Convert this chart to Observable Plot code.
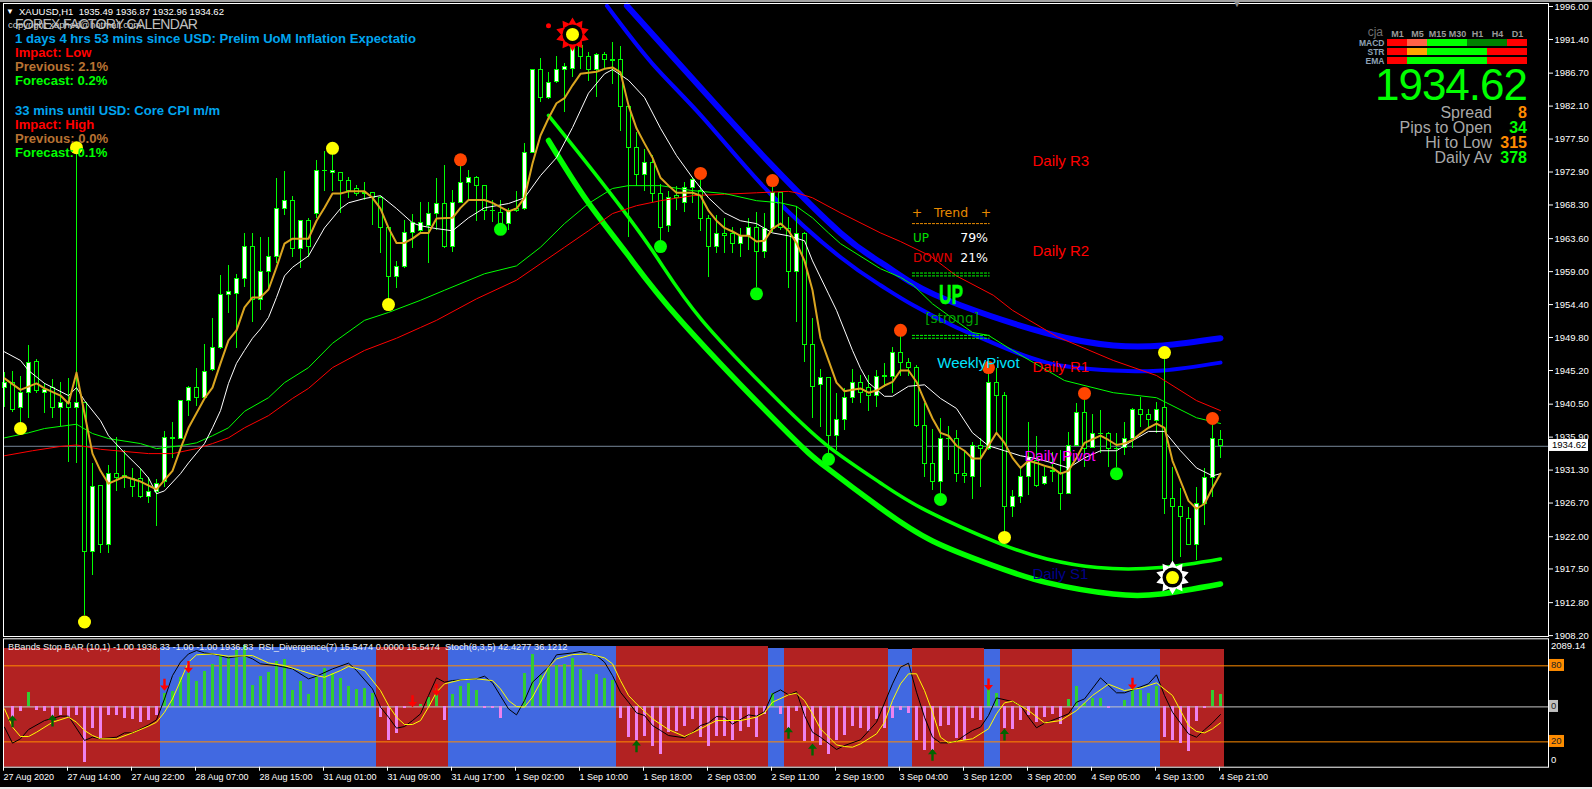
<!DOCTYPE html>
<html><head><meta charset="utf-8">
<script src="https://cdn.jsdelivr.net/npm/d3@7"></script>
<script src="https://cdn.jsdelivr.net/npm/@observablehq/plot@0.6"></script>
<style>
html,body{margin:0;padding:0;background:#000;overflow:hidden}
#stage{position:relative;width:1592px;height:789px;background:#000;overflow:hidden;font-family:"Liberation Sans",Arial,sans-serif}
#stage svg{position:absolute;overflow:visible;background:transparent}
.lb{position:absolute;white-space:pre;line-height:.85}
</style></head><body><div id="stage"></div>
<script>
// ---- price axis & time axis
const priceTicks=[1996.0,1991.4,1986.7,1982.1,1977.5,1972.9,1968.3,1963.6,1959.0,1954.4,1949.8,1945.2,1940.5,1935.9,1931.3,1926.7,1922.0,1917.5,1912.8,1908.2];
const timeLabels=["27 Aug 2020","27 Aug 14:00","27 Aug 22:00","28 Aug 07:00","28 Aug 15:00","31 Aug 01:00","31 Aug 09:00","31 Aug 17:00","1 Sep 02:00","1 Sep 10:00","1 Sep 18:00","2 Sep 03:00","2 Sep 11:00","2 Sep 19:00","3 Sep 04:00","3 Sep 12:00","3 Sep 20:00","4 Sep 05:00","4 Sep 13:00","4 Sep 21:00"];
// ---- H1 candles
const opens=[1942.7,1943.4,1939.9,1942.0,1946.4,1942.1,1942.7,1940.0,1940.7,1940.0,
1940.6,1919.8,1929.1,1920.9,1930.8,1930.5,1930.0,1930.1,1927.5,1928.2,
1929.6,1935.8,1935.7,1940.9,1942.7,1941.3,1945.2,1948.3,1955.8,1955.9,
1957.9,1962.4,1955.0,1958.9,1961.0,1967.8,1968.8,1962.1,1966.1,1967.0,
1973.1,1972.8,1972.8,1971.7,1970.5,1970.0,1970.0,1969.3,1965.1,1958.3,
1959.6,1964.4,1964.6,1965.4,1967.1,1968.5,1962.5,1968.6,1971.4,1972.1,
1970.9,1967.5,1967.2,1965.7,1967.7,1967.8,1975.6,1987.1,1983.2,1985.4,
1987.2,1987.3,1990.5,1989.0,1987.2,1989.3,1988.5,1988.5,1982.0,1976.3,
1972.5,1974.2,1969.9,1965.4,1969.5,1968.6,1970.6,1970.3,1966.3,1962.4,
1964.2,1964.2,1962.8,1964.0,1965.1,1961.7,1965.0,1970.0,1965.0,1958.9,
1964.2,1948.8,1943.2,1944.1,1936.0,1938.3,1941.3,1943.5,1942.7,1941.7,
1944.5,1944.3,1947.7,1946.3,1945.6,1937.4,1932.2,1929.7,1935.7,1935.7,
1930.7,1930.4,1934.6,1934.2,1943.5,1941.6,1926.1,1927.5,1930.4,1932.6,
1929.3,1931.2,1930.9,1928.0,1934.6,1939.3,1934.4,1936.4,1936.4,1934.3,
1934.4,1935.7,1939.7,1939.0,1938.2,1939.9,1927.3,1926.1,1924.5,1920.8,
1926.6,1930.2,1935.49];
const closes=[1943.4,1939.7,1942.0,1946.3,1942.3,1942.5,1940.0,1940.7,1940.0,1940.7,
1919.8,1929.0,1920.9,1930.8,1930.2,1930.2,1928.9,1927.5,1928.2,1929.4,
1935.8,1935.7,1940.9,1942.7,1941.3,1945.0,1948.3,1955.8,1956.1,1957.9,
1962.4,1955.0,1958.9,1961.0,1967.8,1968.8,1962.1,1966.0,1962.4,1973.1,
1973.0,1973.1,1971.7,1970.3,1969.9,1969.9,1969.3,1965.1,1958.3,1959.6,
1964.4,1965.8,1965.8,1967.0,1968.5,1962.5,1968.6,1971.4,1972.1,1970.9,
1967.4,1967.4,1965.7,1967.5,1967.5,1975.6,1987.1,1983.2,1985.3,1987.2,
1987.5,1990.3,1988.9,1987.1,1989.3,1988.6,1988.4,1982.0,1976.3,1972.5,
1974.2,1969.9,1965.1,1969.3,1969.3,1970.6,1971.8,1966.3,1962.4,1964.2,
1964.0,1962.9,1964.0,1965.1,1961.7,1965.0,1970.0,1965.1,1959.0,1964.2,
1948.8,1942.9,1944.1,1936.0,1938.3,1941.3,1943.5,1942.0,1941.7,1944.3,
1944.3,1947.7,1946.3,1945.6,1937.4,1932.2,1929.7,1935.6,1935.6,1930.7,
1930.5,1934.6,1934.2,1943.5,1941.6,1926.1,1927.5,1930.4,1933.0,1929.1,
1930.4,1931.1,1928.0,1934.6,1939.3,1934.3,1936.3,1936.3,1934.2,1934.2,
1935.7,1939.7,1939.0,1938.3,1939.7,1927.3,1926.1,1924.7,1920.8,1926.6,
1930.2,1935.6,1934.62];
const highs=[1944.9,1945.0,1944.3,1948.7,1946.7,1943.4,1943.9,1943.5,1944.1,1975.9,
1940.7,1932.2,1929.1,1931.9,1935.8,1934.0,1931.5,1931.5,1930.2,1930.0,
1936.7,1937.9,1941.0,1942.9,1945.5,1948.8,1952.4,1958.4,1959.8,1958.6,
1964.3,1964.3,1963.8,1963.8,1972.0,1973.0,1969.5,1966.1,1966.4,1974.5,
1975.8,1975.9,1972.8,1972.1,1971.0,1971.4,1970.0,1969.5,1965.1,1960.4,
1966.1,1967.0,1968.6,1968.6,1972.0,1973.8,1970.3,1973.8,1973.1,1972.3,
1970.9,1968.9,1968.9,1967.8,1970.2,1976.9,1987.1,1988.7,1986.8,1989.0,
1988.0,1991.3,1990.8,1989.6,1989.4,1989.6,1991.0,1990.4,1982.2,1978.4,
1976.0,1975.2,1971.2,1970.2,1970.9,1971.4,1972.1,1971.7,1966.8,1966.8,
1966.4,1965.1,1965.0,1966.4,1967.2,1967.1,1970.7,1970.0,1966.5,1968.1,
1964.4,1952.4,1945.3,1944.1,1942.0,1942.7,1945.3,1944.5,1944.5,1945.2,
1946.2,1948.4,1950.5,1946.9,1945.9,1940.6,1936.9,1938.5,1937.4,1936.8,
1934.0,1935.1,1935.7,1944.8,1945.5,1942.1,1928.4,1931.6,1937.9,1936.0,
1931.6,1933.7,1934.0,1936.5,1940.6,1941.0,1939.0,1939.6,1936.5,1936.4,
1937.9,1939.9,1941.4,1939.7,1940.7,1947.7,1931.6,1928.7,1926.1,1928.8,
1931.5,1937.5,1936.87];
const lows=[1940.0,1939.3,1937.1,1938.5,1942.0,1939.2,1938.5,1937.4,1932.3,1932.2,
1911.0,1916.6,1919.6,1919.6,1928.3,1928.7,1927.5,1927.3,1926.6,1923.4,
1928.9,1932.9,1935.6,1938.8,1940.2,1941.0,1945.0,1948.1,1953.1,1948.3,
1956.8,1951.9,1953.6,1956.5,1960.1,1966.8,1961.0,1959.4,1961.0,1966.4,
1970.2,1970.2,1967.1,1969.2,1969.5,1968.9,1965.4,1961.5,1954.4,1956.6,
1959.4,1962.2,1964.4,1960.1,1964.7,1962.2,1961.7,1968.5,1968.9,1966.0,
1966.1,1965.8,1964.9,1964.7,1967.2,1967.5,1975.5,1982.6,1983.0,1985.3,
1981.2,1986.1,1987.2,1985.5,1983.3,1987.3,1985.1,1978.5,1963.8,1970.9,
1970.2,1968.6,1962.5,1964.4,1967.5,1967.2,1968.5,1964.6,1958.2,1961.5,
1961.5,1961.5,1961.0,1961.9,1956.8,1960.8,1964.4,1964.7,1956.6,1951.9,
1946.3,1938.5,1937.2,1933.3,1934.0,1936.8,1940.6,1940.6,1939.5,1940.0,
1942.8,1942.0,1944.3,1944.3,1937.2,1930.2,1928.4,1928.0,1932.6,1929.6,
1929.4,1927.2,1928.9,1934.0,1936.4,1922.6,1924.7,1926.6,1927.7,1928.9,
1929.1,1929.6,1925.6,1927.9,1934.6,1931.6,1934.3,1933.6,1931.6,1931.6,
1933.3,1934.3,1937.2,1937.1,1936.4,1925.1,1918.0,1919.1,1920.8,1918.7,
1923.6,1927.5,1932.96];
const orangeBars=[0,2,4,5,7,8,9,10,11,12,13,15,17,19,21,22,23,25,26,27,28,29,30,31,32,33,34,35,36,38,39,40,41,42,43,45,46,47,48,49,50,51,52,53,54,56,57,58,60,61,63,64,65,66,67,68,69,70,71,72,74,75,76,77,78,79,80,81,82,83,84,86,87,88,89,90,91,92,93,94,95,96,97,98,99,100,101,102,103,104,105,106,107,108,109,110,111,112,113,114,115,116,117,118,119,120,121,122,123,124,125,126,127,128,129,130,131,132,133,134,135,137,138,139,140,141,142,143,144,145,146,147,148,149,150,151,152];
const orangeVals=[1944.1,1942.5,1943.4,1942.7,1941.7,1940.6,1944.9,1939.2,1933.6,1931.2,1929.4,1930.4,1929.7,1928.6,1931.2,1934.3,1937.2,1941.3,1942.8,1946.2,1949.4,1950.8,1954.0,1955.4,1955.4,1956.5,1959.6,1962.9,1963.6,1963.6,1966.1,1967.9,1969.9,1969.9,1970.2,1970.2,1969.3,1967.8,1965.1,1963.0,1963.0,1963.6,1964.4,1964.4,1966.4,1966.5,1967.9,1969.0,1969.0,1968.6,1967.4,1967.8,1969.3,1974.1,1978.0,1980.4,1982.5,1983.2,1985.0,1986.6,1986.9,1987.3,1987.5,1986.8,1982.2,1979.0,1976.9,1974.9,1972.1,1971.0,1970.0,1970.0,1969.6,1967.5,1966.1,1965.1,1964.6,1964.0,1964.0,1963.2,1963.3,1965.0,1965.7,1964.7,1963.0,1960.5,1956.4,1949.7,1946.6,1943.5,1942.3,1942.5,1942.7,1942.1,1942.4,1943.1,1943.6,1945.2,1945.2,1943.6,1941.0,1938.5,1936.5,1936.1,1934.7,1934.0,1932.9,1932.9,1934.7,1936.5,1935.1,1933.0,1931.6,1932.6,1932.3,1931.9,1931.6,1930.8,1931.2,1933.0,1935.1,1936.1,1935.5,1934.8,1935.0,1935.5,1936.4,1937.2,1937.8,1937.2,1932.6,1929.8,1927.0,1925.9,1926.6,1928.8,1930.8];
const whiteBars=[0,2,3,5,8,9,10,12,13,15,17,18,19,20,22,23,25,26,27,28,29,30,31,32,33,34,35,36,38,40,42,43,45,47,49,51,52,54,56,58,60,63,65,67,69,71,73,75,76,78,80,82,84,86,88,90,92,94,96,98,100,101,103,104,106,107,108,110,111,113,115,117,119,121,123,125,127,129,131,133,135,137,139,141,143,145,147,149,151,152];
const whiteVals=[1947.8,1946.6,1945.2,1943.4,1941.7,1942.8,1941.0,1938.2,1936.1,1933.7,1931.5,1930.2,1928.0,1928.4,1930.8,1932.3,1935.0,1937.2,1939.6,1943.4,1946.2,1948.0,1949.7,1951.0,1952.6,1955.4,1958.4,1959.6,1961.2,1965.1,1967.8,1968.6,1969.2,1969.6,1967.8,1965.8,1965.4,1965.0,1964.7,1966.5,1967.9,1968.5,1969.3,1972.4,1974.9,1979.1,1983.9,1986.6,1987.2,1985.7,1983.3,1979.0,1975.2,1972.1,1969.3,1967.2,1966.1,1965.7,1964.4,1964.0,1963.3,1960.5,1955.9,1953.6,1948.0,1945.5,1943.5,1941.6,1941.6,1943.0,1943.2,1941.3,1939.9,1936.5,1934.7,1934.0,1933.3,1932.9,1932.3,1931.6,1933.0,1934.0,1934.0,1935.4,1936.7,1936.7,1934.0,1931.6,1930.5,1930.8];
const greenBars=[0,3,5,9,11,13,17,19,22,24,26,28,30,33,35,38,41,45,48,52,55,60,64,67,70,73,76,78,82,86,90,94,97,99,101,103,104.5,109.5,112,113.6,116,118.6,121,123,126,132.5,138.6,144,149,152];
const greenVals=[1935.8,1936.5,1937.1,1937.7,1936.4,1935.7,1935.0,1934.3,1934.7,1935.1,1936.1,1937.2,1939.5,1941.4,1943.5,1945.6,1949.0,1952.2,1953.3,1955.0,1956.4,1958.7,1959.8,1962.4,1965.7,1968.5,1970.6,1971.0,1971.0,1970.3,1969.9,1968.9,1968.6,1968.1,1966.5,1964.4,1962.9,1959.4,1958.2,1957.1,1954.5,1952.4,1950.5,1950.1,1948.0,1943.8,1942.1,1941.4,1938.6,1937.8];
const redBars=[0,3.5,7,9,12,15,18,21,24,26,28,30,33,36,38,41,45,49,52,54,59,64,67,70,73,76,79,82,86,90,94,98,99,101,104.5,109.5,112,115.7,119,123.6,126,131.6,138.6,144,149,152];
const redVals=[1933.3,1934.0,1934.6,1934.8,1934.2,1933.9,1933.6,1933.6,1934.3,1935.0,1935.8,1937.2,1938.9,1941.3,1942.7,1945.6,1948.0,1949.7,1951.2,1952.2,1955.2,1957.8,1960.1,1962.4,1964.7,1967.1,1968.2,1968.9,1969.6,1969.8,1970.0,1970.2,1970.0,1969.3,1967.2,1964.4,1963.2,1961.2,1958.4,1955.7,1953.6,1949.9,1946.6,1944.5,1941.0,1939.6];
// ---- regression channels
const blueOuterBars=[77.8,87.3,95.7,104.5,109.5,113.6,119.5,130.3,138.6,144.8,152];
const blueOuterVals=[1996.1,1984.3,1974.1,1964.4,1960.3,1957.3,1954.3,1950.4,1948.7,1948.7,1949.7];
const blueInnerBars=[75.3,81,87.3,95.7,104.5,109.5,113.6,119,122.8,130.3,138.6,144.8,152];
const blueInnerVals=[1996.1,1988.0,1980.5,1969.9,1961.0,1957.1,1954.3,1951.2,1949.4,1946.3,1945.2,1945.2,1946.3];
const limeOuterBars=[68,72.8,77.8,84.5,97,102.8,109.5,116,123.5,130.3,138.6,144.5,152];
const limeOuterVals=[1977.3,1968.9,1961.5,1952.2,1937.5,1931.6,1926.0,1921.4,1918.0,1915.6,1914.0,1914.0,1915.4];
const limeInnerBars=[68,74.5,81,87.2,97,103.2,109.5,115.3,124.5,130.3,136.6,144.5,152];
const limeInnerVals=[1980.8,1971.7,1961.9,1952.2,1940.7,1934.4,1929.5,1925.6,1921.0,1918.9,1917.7,1917.7,1918.9];
// ---- signal dots
const yellowBars=[9,41,48,2,10,71,125,145,146];
const yellowVals=[1976.3,1976.2,1954.4,1937.1,1910.1,1992.1,1921.9,1947.7,1916.3];
const orangeDotBars=[57,87,96,112,123,135,151];
const orangeDotVals=[1974.6,1972.7,1971.7,1950.8,1945.6,1942.0,1938.5];
const greenDotBars=[62,82,94,103,117,139];
const greenDotVals=[1964.9,1962.5,1955.9,1932.8,1927.2,1930.8];
// ---- price labels on chart
const levelNames=["Daily R3","Daily R2","Daily R1","Daily Pivot","Daily S1","WeeklyPivot"];
const levelBars=[128.5,128.5,128.5,127.5,128.5,116.6];
const levelVals=[1974.4,1961.9,1945.6,1933.2,1916.8,1946.2];
const levelColors=["#ff0000","#ff0000","#ff0000","#ff00ff","#00008b","#00e5ff"];
// ---- lower panel: BBands Stop regions
const regionFirst=[0,20,47,56,77,96,98,111,114,123,125,134,145];
const regionLast=[19,46,55,76,95,97,110,113,122,124,133,144,152];
const regionTops=[93.7,94.5,94.5,95.5,95,94,94,92.9,93.5,92.9,92.9,92.9,92.9];
const regionColors=["#b22222","#4169e1","#b22222","#4169e1","#b22222","#4169e1","#b22222","#4169e1","#b22222","#4169e1","#b22222","#4169e1","#b22222"];
// ---- lower panel: histogram, relative to its zero line
const histValues=[0.5,-8.2,-3.7,11.3,-2.9,-3.7,-9.5,-6.8,-8.2,-6.8,-43.7,-16.8,-25.3,-6.8,-6.8,-9.5,-10.3,-12.1,-10.8,-6.8,
10.3,12.1,23.4,26.1,20,27.9,33.2,40.5,39.2,44.5,48.4,16.8,23.9,27.1,35.8,37.4,12.9,20,9.7,23.4,30,26.1,22.1,16.1,13.7,14.7,10.3,
-8.2,-26.6,-20.8,-1.6,1.6,1.6,7.4,14.2,-10.8,
9.7,16.1,18.4,12.9,-1.6,-1.6,-8.9,0,0,
26.6,41.3,24.7,30,32.6,33.2,37.9,29.5,20.8,25.3,22.1,20.8,
-8.9,-23.9,-26.6,-23.4,-31.1,-37.6,-20,-19.2,-15.5,-10.3,-23.9,-31.1,-23.2,-23.2,-26.6,-19.5,-16.1,-23.9,-6.3,
10.8,-6.3,-17.4,-3.7,-27.4,-27.4,-30.5,-37.6,-26.6,-22.6,-15.5,-17.4,-19.5,-10.3,-17.4,-9.5,-2.9,-5,-26.6,-34.5,-34.5,-15.5,-14.7,-24.7,-26.6,-8.9,-10.8,
14.2,10.3,-17.4,-17.9,-10.8,-6.8,-12.1,-8.2,-6.3,-14.2,5.8,16.1,2.4,6.8,6.3,-1.1,0,5,14.2,12.9,10.8,16.1,
-23.9,-26.6,-28.7,-35.3,-11.6,-1.1,12.9,9.7];
const histZero=47.6;
// ---- lower panel: stochastic
const stochBars=[0,1,2,3,5,7,8,10,11,12,14,15,16,18,19,20,21,22,23,24,25,26,28,30,31,32,34,36,38,39,41,43,44,46,47,48,49,50,51,52,53,54,55,56,57,59,60,61,63,64,65,66,68,69,71,72,74,75,76,77,78,79,80,81,82,83,85,86,87,88,89,90,91,93,94,95,96,97,98,99,100,101,102,104,105,107,109,111,112,113,114,115,116,117,118,119,120,121,122,123,124,126,127,128,129,130,132,133,134,135,137,139,140,141,143,144,145,146,148,149,150,151,152];
const stochVals=[31.6,19.0,22.4,29.7,36.8,40.3,40.3,21.1,23.7,22.4,23.7,27.1,27.1,33.4,37.4,53.9,72.3,82.9,89.4,92.1,90.2,89.4,86.3,88.1,85.5,81.6,80.2,77.6,69.7,71.8,77.6,82.1,76.3,61.8,47.4,39.5,30.8,32.1,36.8,42.1,56.6,70.5,67.1,68.4,68.9,69.7,71.8,66.6,46.0,41.3,52.6,67.1,78.9,88.7,90.2,91.3,88.1,82.9,72.3,59.2,51.3,42.9,40.8,32.9,29.0,25.0,23.2,27.6,32.9,35.0,40.0,39.5,34.0,41.3,40.3,43.9,57.9,61.0,57.1,59.7,40.8,27.6,23.7,14.0,17.1,21.6,35.5,65.8,78.9,82.1,59.2,39.5,23.7,19.2,19.2,20.5,25.0,29.0,31.6,40.8,54.7,51.8,48.7,39.5,31.1,34.7,39.5,42.1,51.3,53.9,70.5,58.7,58.7,61.0,65.8,72.9,56.6,43.4,26.3,23.7,29.5,35.0,41.6];
const signalBars=[0,1,2,3,4,6,8,9,10,11,12,14,16,18,19,20,21,22,23,24,26,28,31,33,35,37,39,40,42,43,45,47,48,49,50,51,52,53,54,55,57,59,61,62,63,64,65,66,67,68,69,71,73,75,76,77,78,79,81,83,85,87,89,92,94,95,96,98,99,100,101,102,104,105,106,107,109,110,111,112,113,114,115,116,117,118,119,121,123,124,125,126,128,130,132,134,136,138,140,142,144,146,148,149,150,151,152];
const signalVals=[46.0,31.6,24.2,24.2,27.6,35.5,39.5,35.5,29.0,25.0,22.4,22.4,27.1,32.4,35.5,43.4,53.9,68.4,82.9,88.7,89.4,87.6,88.1,82.3,80.2,76.3,72.3,71.0,76.3,79.5,76.3,60.5,48.7,39.5,33.7,33.7,36.8,47.4,59.2,65.8,68.9,69.7,68.4,61.8,52.6,47.9,47.4,55.3,67.1,78.9,85.5,88.9,89.4,86.3,81.6,68.4,56.6,50.0,38.2,29.7,24.2,30.3,36.8,36.8,39.5,42.9,51.3,57.1,58.4,52.6,42.1,30.3,17.6,16.3,15.8,18.4,26.3,35.5,52.6,65.8,73.7,73.7,60.5,43.4,23.7,19.2,20.5,22.4,30.3,42.1,50.8,52.1,44.7,35.0,36.8,44.7,56.6,65.5,60.5,62.4,66.6,56.6,32.9,28.2,27.1,30.3,35.0];
const downArrowBars=[20,23,51,54,123,141];
const downArrowVals=[65.0,79.0,52.0,61.0,65.3,65.8];
const upArrowBars=[1,6,79,98,101,116,125];
const upArrowVals=[36.3,36.8,16.6,27.1,14.0,9.8,25.8];
// ---- timeframe grid
const timeframes=["M1","M5","M15","M30","H1","H4","D1"];
const gridRows=["MACD","STR","EMA"];
const gridMacd=["#ff0000","#ff6347","#00ff00","#00ff00","#008000","#008000","#ff0000"];
const gridStr=["#ff0000","#ffa500","#00ff00","#00ff00","#00ff00","#ff0000","#ff0000"];
const gridEma=["#ff0000","#00ff00","#00ff00","#00ff00","#00ff00","#ff0000","#ff0000"];

const stage=document.getElementById("stage");
const pts=(bars,vals)=>bars.map((b,k)=>({b,v:vals[k]}));
const candles=opens.map((o,i)=>({i,o,c:closes[i],h:highs[i],l:lows[i]}));
const burst={draw(c,size){const R=Math.sqrt(size/Math.PI),n=10;for(let k=0;k<2*n;k++){const a=k*Math.PI/n,r=k%2?R*.68:R;const X=r*Math.sin(a),Y=-r*Math.cos(a);k?c.lineTo(X,Y):c.moveTo(X,Y);}c.closePath();}};
const arrowUp={draw(c,size){const R=Math.sqrt(size/Math.PI);c.moveTo(0,-R);c.lineTo(.75*R,-.1*R);c.lineTo(.2*R,-.1*R);c.lineTo(.2*R,R);c.lineTo(-.2*R,R);c.lineTo(-.2*R,-.1*R);c.lineTo(-.75*R,-.1*R);c.closePath();}};
const arrowDown={draw(c,size){const R=Math.sqrt(size/Math.PI);c.moveTo(0,R);c.lineTo(.75*R,.1*R);c.lineTo(.2*R,.1*R);c.lineTo(.2*R,-R);c.lineTo(-.2*R,-R);c.lineTo(-.2*R,.1*R);c.lineTo(-.75*R,.1*R);c.closePath();}};
const curve=(bars,vals,stroke,strokeWidth,cv)=>Plot.line(pts(bars,vals),{x:"b",y:"v",stroke,strokeWidth,curve:cv||"linear"});
const dots=(bars,vals,fill,r)=>Plot.dot(pts(bars,vals),{x:"b",y:"v",fill,r});
const crisp={shapeRendering:"crispEdges"};
const xScale={type:"linear",domain:[0,152],range:[4,1220]};

const main=Plot.plot({
  width:1592,height:637,marginLeft:3,marginRight:44,marginTop:3,marginBottom:1,
  x:{...xScale,axis:null},
  y:{type:"linear",domain:[1996,1908.2],range:[6,635.1]},
  color:{type:"identity"},
  style:{background:"transparent",color:"white",fontFamily:"'Liberation Sans',Arial,sans-serif",fontSize:"9.5px",overflow:"visible"},
  marks:[
    Plot.axisY({anchor:"right",ticks:priceTicks,tickFormat:d=>d.toFixed(2),tickSize:4,tickPadding:2,label:null,stroke:"white"}),
    Plot.ruleY([1934.62],{stroke:"#778899"}),
    curve(blueOuterBars,blueOuterVals,"#0000ff",6,"natural"),
    curve(blueInnerBars,blueInnerVals,"#0000ff",4,"natural"),
    curve(limeOuterBars,limeOuterVals,"#00ff00",5.5,"natural"),
    curve(limeInnerBars,limeInnerVals,"#00ff00",3.5,"natural"),
    Plot.ruleX(candles,{x:"i",y1:"l",y2:"h",stroke:"#00ff00",...crisp}),
    Plot.rect(candles,{filter:d=>d.c>=d.o,x1:d=>d.i-.25,x2:d=>d.i+.25,y1:"o",y2:"c",fill:"white",stroke:"#00ff00",...crisp}),
    Plot.rect(candles,{filter:d=>d.c<d.o,x1:d=>d.i-.25,x2:d=>d.i+.25,y1:"o",y2:"c",fill:"black",stroke:"#00ff00",...crisp}),
    curve(redBars,redVals,"#ff0000",1),
    curve(greenBars,greenVals,"#00ff00",1),
    curve(whiteBars,whiteVals,"#ffffff",1),
    curve(orangeBars,orangeVals,"#daa520",2),
    dots([68],[1993.3],"#ff0000",2.5),
    Plot.dot(pts([71],[1992.1]),{x:"b",y:"v",r:17,symbol:burst,fill:"#ff0000"}),
    Plot.dot(pts([146],[1916.3]),{x:"b",y:"v",r:17,symbol:burst,fill:"#ffffff"}),
    dots([71,146],[1992.1,1916.3],"#000000",10),
    dots(yellowBars,yellowVals,"#ffff00",6.5),
    dots(orangeDotBars,orangeDotVals,"#ff4500",6.5),
    dots(greenDotBars,greenDotVals,"#00ff00",6.5),
    Plot.ruleY([1965.7],{x1:113.5,x2:123.2,stroke:"#e88a00",strokeDasharray:"3 1"}),
    Plot.ruleY([1958.8,1958.4,1950.1,1949.7],{x1:113.5,x2:123.2,stroke:"#00ff00",strokeDasharray:"3 1"}),
    Plot.text(pts(levelBars,levelVals).map((d,k)=>({...d,t:levelNames[k],col:levelColors[k]})),{x:"b",y:"v",text:"t",fill:"col",fontSize:15,textAnchor:"start"}),
    Plot.frame({stroke:"white"})
  ]
});
main.style.left="0";main.style.top="0";stage.appendChild(main);

const regions=regionFirst.map((f,k)=>({f,l:regionLast[k],top:regionTops[k],col:regionColors[k]}));
const hist=histValues.map((v,i)=>({i,v}));
const sub=Plot.plot({
  width:1592,height:152,marginLeft:3,marginRight:44,marginTop:1.3,marginBottom:22.3,
  x:{...xScale,axis:null},
  y:{type:"linear",domain:[0,100],range:[129.7,3],axis:null},
  color:{type:"identity"},
  style:{background:"transparent",color:"white",fontFamily:"'Liberation Sans',Arial,sans-serif",fontSize:"9px",overflow:"visible"},
  marks:[
    Plot.rect(regions,{x1:d=>d.f-.5,x2:d=>d.l+.5,y1:0,y2:"top",fill:"col",clip:true,...crisp}),
    Plot.ruleY([80,20],{stroke:"#ff8c00"}),
    Plot.ruleY([histZero],{stroke:"#c8c8c8"}),
    Plot.ruleX(hist,{filter:d=>d.v<0,x:"i",y1:histZero,y2:d=>histZero+d.v,stroke:"#ee82ee",strokeWidth:3.6,...crisp}),
    Plot.ruleX(hist,{filter:d=>d.v>0,x:"i",y1:histZero,y2:d=>histZero+d.v,stroke:"#32cd32",strokeWidth:3.6,...crisp}),
    curve(stochBars,stochVals,"#000000",1),
    curve(signalBars,signalVals,"#ffff00",1),
    Plot.dot(pts(downArrowBars,downArrowVals),{x:"b",y:"v",r:6,symbol:arrowDown,fill:"#ff0000"}),
    Plot.dot(pts(upArrowBars,upArrowVals),{x:"b",y:"v",r:6,symbol:arrowUp,fill:"#006400"}),
    Plot.axisX({anchor:"bottom",ticks:timeLabels.map((t,k)=>k*8),tickFormat:d=>timeLabels[d/8],tickSize:4,tickPadding:2,textAnchor:"start",dx:-1,label:null,stroke:"white"}),
    Plot.frame({stroke:"white"})
  ]
});
sub.style.left="0";sub.style.top="637px";stage.appendChild(sub);

const gridColors=[gridMacd,gridStr,gridEma];
const gridCells=gridRows.flatMap((r,k)=>timeframes.map((t,j)=>({r,t,col:gridColors[k][j]})));
const grid=Plot.plot({
  width:181,height:47,marginLeft:40,marginRight:0,marginTop:17.75,marginBottom:0,
  x:{type:"band",domain:timeframes,padding:0,axis:null},
  y:{type:"band",domain:gridRows,padding:.25,axis:null},
  color:{type:"identity"},
  style:{background:"transparent",color:"#9a9a9a",fontFamily:"'Liberation Sans',Arial,sans-serif",fontSize:"9px",fontWeight:"bold",overflow:"visible"},
  marks:[
    Plot.cell(gridCells,{x:"t",y:"r",fill:"col",...crisp}),
    Plot.axisX({anchor:"top",tickSize:0,tickPadding:0,label:null}),
    Plot.axisY({anchor:"left",tickSize:0,tickPadding:2,fontSize:8.5,fill:"#8fa3b5",label:null})
  ]
});
grid.style.left="1346px";grid.style.top="19px";stage.appendChild(grid);

function label(text,x,y,css,anchor,scaleX){
  const e=document.createElement("div");e.className="lb";e.textContent=text;
  e.style.cssText=css||"";
  e.style.left=x+"px";e.style.top=y+"px";
  const tx=anchor==="end"?"-100%":anchor==="middle"?"-50%":"0";
  e.style.transform=`translate(${tx},-50%)`+(scaleX?` scaleX(${scaleX})`:"");
  stage.appendChild(e);
}
const hdr="font-size:9.5px;color:#fff;";
label("\u25BC",6,11.5,"font-size:8px;color:#fff;");
label("XAUUSD,H1  1935.49 1936.87 1932.96 1934.62",19,11.5,hdr);
label("\u25BC",1237,5,"font-size:9px;color:#8a8a8a;","middle");
label("copyright xaphod@hotmail.com",8,25,"font-size:9.5px;color:#d0d0d0;");
label("FOREX FACTORY CALENDAR",15,25,"font-size:14px;letter-spacing:-.7px;color:#c0c0c0;");
const news="font-size:13.1px;font-weight:bold;";
[["1 days 4 hrs 53 mins since USD: Prelim UoM Inflation Expectatio",39,"#00a5ef"],["Impact: Low",53.3,"#ff0000"],["Previous: 2.1%",67.3,"#b87333"],["Forecast: 0.2%",81.3,"#00ff00"],
 ["33 mins until USD: Core CPI m/m",111.3,"#00a5ef"],["Impact: High",125.3,"#ff0000"],["Previous: 0.0%",139.3,"#b87333"],["Forecast: 0.1%",153.3,"#00ff00"]]
 .forEach(([t,y,c])=>label(t,15,y,news+"color:"+c+";"));
// trend box
const dv="font-family:'DejaVu Sans',sans-serif;";
label("+",917,213,dv+"font-size:12.5px;color:#e88a00;","middle");
label("Trend",951,213,dv+"font-size:12.5px;color:#e88a00;","middle");
label("+",986,213,dv+"font-size:12.5px;color:#e88a00;","middle");
label("UP",913,238,dv+"font-size:12px;color:#00e000;");
label("79%",988,238,dv+"font-size:12.5px;color:#fff;","end");
label("DOWN",913,258,dv+"font-size:12px;color:#e00000;");
label("21%",988,258,dv+"font-size:12.5px;color:#fff;","end");
label("UP",951,295,"font-weight:bold;font-size:27px;color:#00ff00;-webkit-text-stroke:.6px #00ff00;","middle",.64);
label("[strong]",952,319,dv+"font-size:13.5px;color:#00a000;","middle");
// price panel
label("cja",1383,32,"font-size:12px;color:#707070;","end");
label("1934.62",1527,85,"font-size:44px;letter-spacing:-1px;color:#00ff00;","end");
[["Spread","8","#ff8c00",113],["Pips to Open","34","#00ff00",128],["Hi to Low","315","#ff8c00",143],["Daily Av","378","#00ff00",158]]
 .forEach(([t,v,c,y])=>{label(t,1492,y,"font-size:16px;color:#a9a9a9;","end");label(v,1527,y,"font-size:16px;font-weight:bold;color:"+c+";","end");});
// axis flags
label("1934.62",1549,445.3,"font-size:9.5px;color:#000;background:#fff;padding:2px 3px 2px 3px;width:33px;");
label("2089.14",1551,645.7,"font-size:9.5px;color:#fff;");
label("80",1549,665.3,"font-size:9.5px;color:#222;background:#ff8c00;padding:2px;");
label("0",1549,706.3,"font-size:9.5px;color:#222;background:#c0c0c0;padding:2px;");
label("20",1549,741.3,"font-size:9.5px;color:#222;background:#ff8c00;padding:2px;");
label("0",1551,760,"font-size:9.5px;color:#fff;");
label("BBands Stop BAR (10,1) -1.00 1936.33 -1.00 -1.00 1936.83  RSI_Divergence(7) 15.5474 0.0000 15.5474  Stoch(8,3,5) 42.4277 36.1212",8,647.7,"font-size:9.25px;color:#f0f0f0;");
// window edges
const band=(top,h,c)=>{const e=document.createElement("div");e.style.cssText=`position:absolute;left:0;width:1592px;top:${top}px;height:${h}px;background:${c}`;stage.appendChild(e);};
band(0,1.5,"#a0a0a0");band(787,2,"#e8e8e8");
</script></body></html>
